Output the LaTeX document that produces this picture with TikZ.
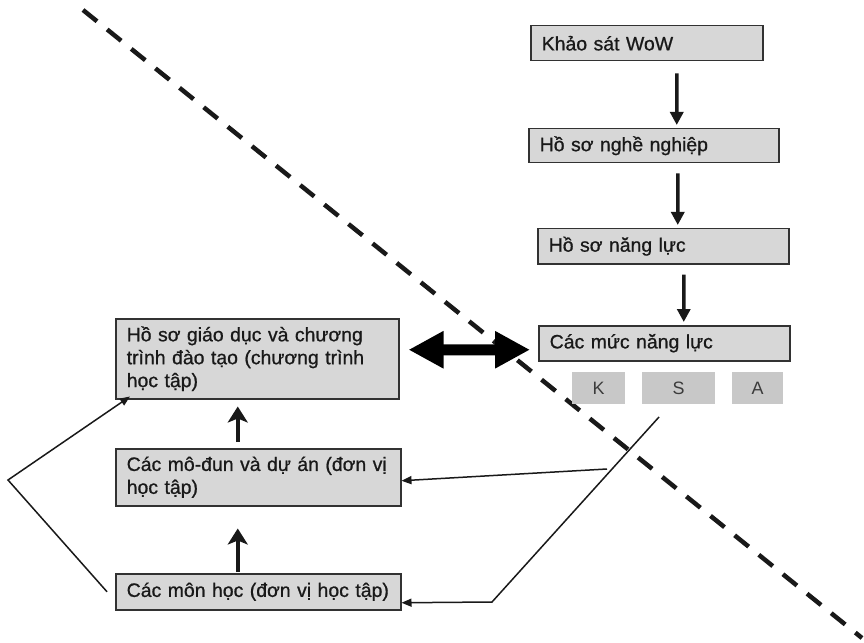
\documentclass[tikz,border=0pt]{standalone}
\usepackage{fontspec}
\setmainfont{Liberation Sans}
\newfontfamily\boxfont{Liberation Sans}[FakeBold=0.8]
\usepackage{tikz}
\usetikzlibrary{arrows.meta}

\definecolor{boxgray}{RGB}{215,215,215}
\definecolor{ksagray}{RGB}{200,200,200}
\definecolor{edgegray}{RGB}{50,50,50}
\definecolor{inkgray}{RGB}{25,25,25}

\tikzset{
  stage/.style={draw=edgegray, line width=1.5bp, fill=boxgray, text=inkgray,
    anchor=north west, inner xsep=11bp, inner ysep=0pt, align=left,
    font=\boxfont\fontsize{19.5}{23}\selectfont},
  ksa/.style={fill=ksagray, text=inkgray!85, anchor=north west, inner sep=0pt,
    font=\fontsize{18}{21}\selectfont},
  down/.style={-{Triangle[length=13bp,width=13bp]}, line width=3.5bp, draw=inkgray},
  up/.style={-{Stealth[length=16bp,width=20bp,inset=4bp]}, line width=4.5bp, draw=inkgray},
  feed/.style={-{Triangle[length=10bp,width=8bp]}, line width=1.5bp, draw=inkgray},
  both/.style={{Triangle[length=35bp,width=35bp]}-{Triangle[length=35bp,width=35bp]},
    line width=11bp, draw=black},
  border/.style={dash pattern=on 18bp off 13bp, line width=4.5bp, draw=inkgray}
}

\begin{document}
\begin{tikzpicture}[x=1bp,y=-1bp]
\useasboundingbox (0,0) rectangle (864,643);
%
\draw[border] (83,10) -- (862,638);
%
\node[stage, text width=210bp, minimum height=35bp](wow) at (530,25) {Khảo sát WoW};
%
\node[stage, text width=228bp, minimum height=34bp](nghe) at (528,128) {Hồ sơ nghề nghiệp};
\draw[down]([xshift=30bp,yshift=-12bp]wow.south) -- ([xshift=23bp,yshift=3bp]nghe.north);
%
\node[stage, text width=229bp, minimum height=35bp](nangluc) at (537,228) {Hồ sơ năng lực};
\draw[down]([xshift=24bp,yshift=-10bp]nghe.south) -- ([xshift=14.5bp,yshift=3bp]nangluc.north);
%
\node[stage, text width=229bp, minimum height=35bp](muc) at (538,325) {Các mức năng lực};
\draw[down]([xshift=20.5bp,yshift=-10bp]nangluc.south) -- ([xshift=19.5bp,yshift=3bp]muc.north);
%
\node[ksa, minimum width=53bp, minimum height=32bp](k) at (572,372) {K};
\node[ksa, minimum width=73bp, minimum height=32bp](s) at (642,372) {S};
\node[ksa, minimum width=51bp, minimum height=32bp](a) at (732,372) {A};
%
\node[stage, text width=261bp, minimum height=80bp](giaoduc) at (115,318)
  {Hồ sơ giáo dục và chương\\trình đào tạo (chương trình\\học tập)};
\draw[both]([xshift=9bp,yshift=9bp]giaoduc.east) -- ([xshift=-8bp,yshift=-6.5bp]muc.west);
%
\node[stage, text width=263bp, minimum height=57bp](modun) at (115,448)
  {\mbox{Các mô-đun và dự án (đơn vị}\\học tập)};
\draw[up]([xshift=-20.5bp,yshift=6bp]modun.north) -- ([xshift=-19.5bp,yshift=-7bp]giaoduc.south);
%
\node[stage, text width=263bp, minimum height=36bp](monhoc) at (115,573)
  {\mbox{Các môn học (đơn vị học tập)}};
\draw[up]([xshift=-20.5bp,yshift=1bp]monhoc.north) -- ([xshift=-20.5bp,yshift=-22bp]modun.south);
%
\coordinate(ksfoot) at (607,469);
\coordinate(kstop) at (659,417);
\coordinate(kink) at (492,602);
\coordinate(lbend) at (8,480);
\draw[feed](ksfoot) -- ([yshift=-3.5bp]modun.east);
\draw[feed](kstop) -- (kink) -- ([yshift=-11bp]monhoc.east);
\draw[feed]([xshift=-8bp]monhoc.west) -- (lbend) -- ([xshift=15bp,yshift=3bp]giaoduc.south west);
\end{tikzpicture}
\end{document}
